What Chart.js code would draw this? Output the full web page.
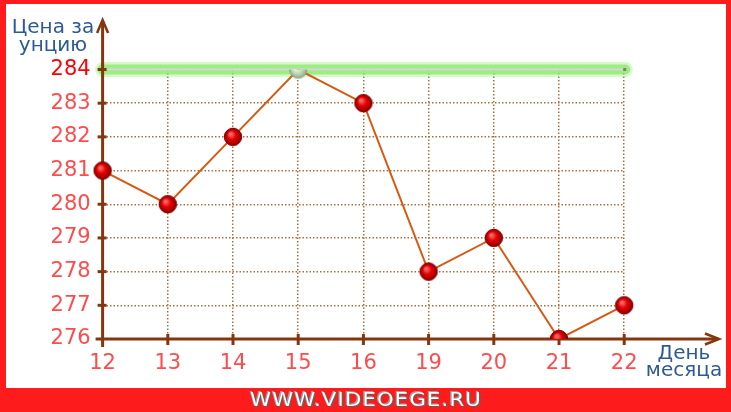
<!DOCTYPE html>
<html><head><meta charset="utf-8">
<script src="https://cdn.jsdelivr.net/npm/chart.js@4"></script>
<style>
html,body{margin:0;padding:0;}
body{width:731px;height:412px;background:#fd1b1b;position:relative;overflow:hidden;font-family:"DejaVu Sans",sans-serif;}
#panel{position:absolute;left:6px;top:4px;width:720px;height:384px;background:#fff;}
#c{position:absolute;left:0;top:0;}
.lbl{position:absolute;color:#2c5a95;font-size:20px;line-height:20px;text-align:center;white-space:nowrap;}
#site{position:absolute;left:250px;top:390px;display:inline-block;font-size:19px;line-height:19px;color:#fff;
 text-shadow:0 0 1px #444,1px 1px 1px #666,-1px -1px 0 #aaa;white-space:nowrap;letter-spacing:1px;transform-origin:0 0;}
</style></head>
<body>
<div id="panel"></div>
<canvas id="c" width="731" height="412"></canvas>
<div class="lbl" style="left:3px;top:16px;width:100px;">Цена за</div>
<div class="lbl" style="left:3px;top:34px;width:100px;">унцию</div>
<div class="lbl" style="left:634px;top:342px;width:100px;">День</div>
<div class="lbl" style="left:634px;top:359px;width:100px;">месяца</div>
<span id="site">WWW.VIDEOEGE.RU</span>
<script>
const days = ['12','13','14','15','16','19','20','21','22'];
const prices = [281, 280, 282, 284, 283, 278, 279, 276, 277];
const yMin = 276, yMax = 284;
const highlightValue = 284;

// fit site text width
(function(){const s=document.getElementById('site');const w=s.getBoundingClientRect().width;s.style.transform='scaleX('+(232/w)+')';})();

function sphere(c0,c1,c2,edge){
  const r=8.7, s=20, cv=document.createElement('canvas'); cv.width=s; cv.height=s;
  const g=cv.getContext('2d');
  const gr=g.createRadialGradient(s/2-2.5,s/2-3,1,s/2,s/2,r);
  gr.addColorStop(0,c0); gr.addColorStop(0.45,c1); gr.addColorStop(1,c2);
  g.beginPath(); g.arc(s/2,s/2,r,0,Math.PI*2); g.fillStyle=gr; g.fill();
  g.lineWidth=1; g.strokeStyle=edge; g.stroke();
  return cv;
}
const redBall = sphere('#ff6a6a','#e40000','#8e0000','#7a0000');
const greenBall = sphere('#f2f8ee','#cfe3c6','#8fae86','#8aa486');

const AX='#86360f';
const decor = {
  id:'decor',
  beforeDatasetsDraw(chart){
    const {ctx, chartArea:a, scales:{x,y}} = chart;
    ctx.save();
    // green highlight line
    const yh=y.getPixelForValue(highlightValue);
    const xe=x.getPixelForValue(days.length-1)+1;
    ctx.lineCap='round';
    ctx.strokeStyle='rgba(150,240,120,0.4)'; ctx.lineWidth=15;
    ctx.beginPath(); ctx.moveTo(a.left,yh); ctx.lineTo(xe,yh); ctx.stroke();
    ctx.strokeStyle='rgba(125,230,95,0.65)'; ctx.lineWidth=10;
    ctx.beginPath(); ctx.moveTo(a.left,yh); ctx.lineTo(xe,yh); ctx.stroke();
    ctx.lineCap='butt';
    ctx.strokeStyle='#ddd6d6'; ctx.lineWidth=2;
    ctx.beginPath(); ctx.moveTo(a.left,yh); ctx.lineTo(xe,yh); ctx.stroke();
    ctx.fillStyle='#8a7a70'; ctx.fillRect(xe-2,yh-1.5,3,3);
    // axes
    ctx.strokeStyle=AX; ctx.lineWidth=3; ctx.lineCap='butt';
    const x0=a.left, y0=y.getPixelForValue(yMin);
    ctx.beginPath(); ctx.moveTo(x0,y0+8); ctx.lineTo(x0,21); ctx.stroke();
    ctx.beginPath(); ctx.moveTo(x0-7,y0); ctx.lineTo(718,y0); ctx.stroke();
    // arrow heads
    ctx.lineWidth=2.5; ctx.lineJoin='miter';
    ctx.beginPath(); ctx.moveTo(x0-5.5,33); ctx.lineTo(x0,20); ctx.lineTo(x0+5.5,33); ctx.stroke();
    ctx.beginPath(); ctx.moveTo(705,y0-5.5); ctx.lineTo(719,y0); ctx.lineTo(705,y0+5.5); ctx.stroke();
    // tick marks
    ctx.lineWidth=3;
    for(let v=yMin+1; v<=yMax; v++){
      const py=y.getPixelForValue(v);
      ctx.beginPath(); ctx.moveTo(x0-5,py); ctx.lineTo(x0+4,py); ctx.stroke();
    }
    for(let i=1;i<days.length;i++){
      const px=x.getPixelForValue(i);
      ctx.beginPath(); ctx.moveTo(px,y0-5); ctx.lineTo(px,y0+6); ctx.stroke();
    }
    ctx.restore();
  }
};

new Chart(document.getElementById('c'), {
  type:'line',
  data:{labels:days, datasets:[{
    data:prices,
    borderColor:'#d65a14', borderWidth:2, tension:0,
    pointStyle:(c)=>prices[c.dataIndex]===highlightValue?greenBall:redBall,
    pointRadius:9, pointHoverRadius:9
  }]},
  options:{
    responsive:false, animation:false, events:[],
    layout:{padding:{left:0,right:106.8,top:69.5,bottom:0}},
    plugins:{legend:{display:false},tooltip:{enabled:false}},
    scales:{
      x:{
        type:'category', offset:false,
        afterFit(s){s.height=73;},
        grid:{drawTicks:false, lineWidth:1.5,
          color:(c)=>c.index===0?'rgba(0,0,0,0)':'#a8703f'},
        border:{display:false, dash:[1.5,2]},
        ticks:{autoSkip:false,maxRotation:0,padding:12,color:'#ff4b4b',
          font:{family:'DejaVu Sans',size:21}}
      },
      y:{
        min:yMin,max:yMax,
        afterFit(s){s.width=102.6;},
        grid:{drawTicks:false, lineWidth:1.5, color:'#a8703f'},
        border:{display:false, dash:[1.5,2]},
        ticks:{stepSize:1,padding:12,
          color:(c)=>c.tick.value===highlightValue?'#ff0000':'#ff4b4b',
          font:{family:'DejaVu Sans',size:21}}
      }
    }
  },
  plugins:[decor]
});
</script>
</body></html>
